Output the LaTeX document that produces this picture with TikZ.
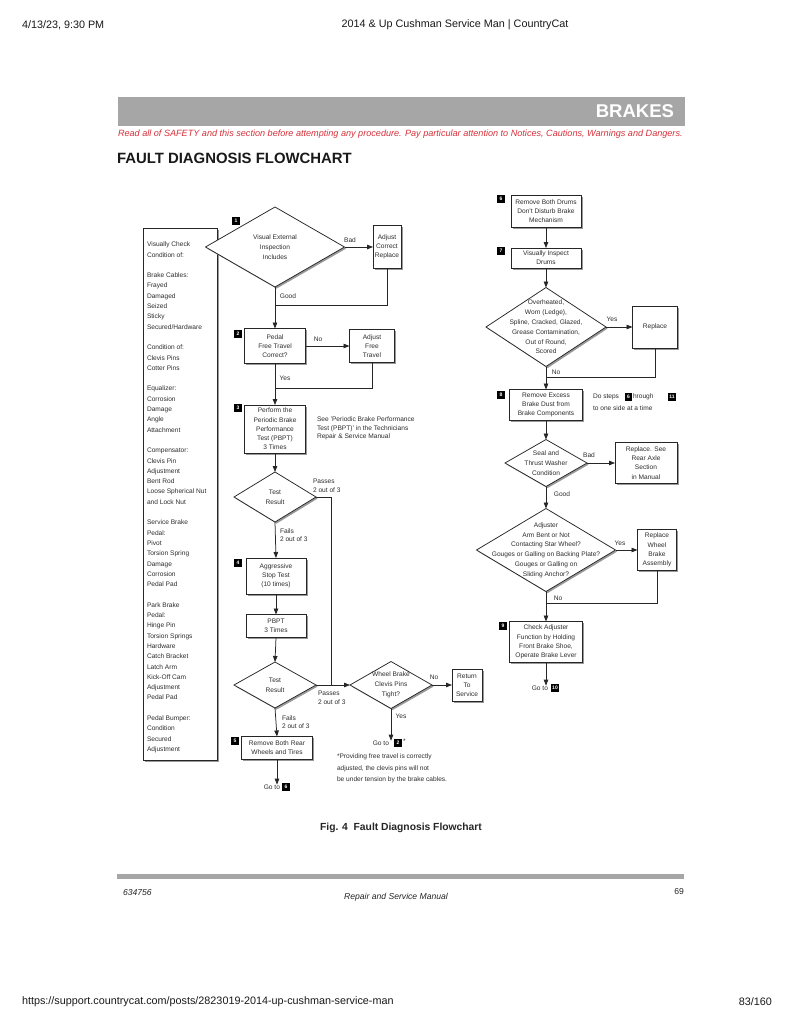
\documentclass[tikz,border=0pt]{standalone}
\usepackage{fontspec}
\setmainfont{Liberation Sans}
\usetikzlibrary{shapes.geometric,arrows.meta,shadows}
\definecolor{warn}{RGB}{214,48,58}
\definecolor{ink}{RGB}{45,45,45}
\definecolor{bar}{RGB}{166,166,166}
\begin{document}
\begin{tikzpicture}[x=1pt,y=-1pt,
 every node/.style={inner sep=0pt, outer sep=0pt},
 fc/.style={font=\fontsize{6.6}{9.2}\selectfont, text=ink, align=center},
 dt/.style={font=\fontsize{6.6}{9.8}\selectfont, text=ink, align=center},
 shd/.style={drop shadow={shadow xshift=1.6pt,shadow yshift=-1.6pt,fill=black!40,opacity=1}},
 bx/.style={draw=black!85, line width=0.75pt, fill=white, shd, rectangle},
 dia/.style={draw=black!85, line width=0.75pt, fill=white, shd, diamond},
 badge/.style={fill=black, text=white, font=\fontsize{5}{5}\selectfont\bfseries, minimum size=7.8pt},
 arr/.style={draw=black!85, line width=0.75pt, -{Triangle[length=6pt,width=4.5pt]}},
 ln/.style={draw=black!85, line width=0.75pt},
 lbl/.style={font=\fontsize{6.6}{8.6}\selectfont, text=ink, align=left},
 hdr/.style={font=\fontsize{10.8}{12}\selectfont, text=black!90},
 ft/.style={font=\fontsize{8.6}{10}\selectfont\itshape, text=black!85}
]
\fill[white] (0,0) rectangle (794,1028);
\useasboundingbox (0,0) rectangle (794,1028);

% page header / footer of the browser print
\node[hdr, anchor=west] (date) at (22,25) {4/13/23, 9:30 PM};
\node[hdr] (ptitle) at (455,25) {2014 \& Up Cushman Service Man | CountryCat};
\node[hdr, anchor=west] (url) at (22,1002) {https://support.countrycat.com/posts/2823019-2014-up-cushman-service-man};
\node[hdr, anchor=east] (pg) at (772,1002) {83/160};

% banner
\node[fill=bar, minimum width=567pt, minimum height=29pt, anchor=north west] (banner) at (118,97) {};
\node[anchor=east, text=white, font=\fontsize{18.5}{20}\selectfont\bfseries] (brakes) at (674,111) {BRAKES};
\node[anchor=west, text=warn, font=\fontsize{9.1}{10}\selectfont\itshape] (warnline) at (118,134) {Read all of SAFETY and this section before attempting any procedure. Pay particular attention to Notices, Cautions, Warnings and Dangers.};
\node[anchor=west, font=\fontsize{14.9}{16}\selectfont\bfseries, text=black!90] (title) at (117,158) {FAULT DIAGNOSIS FLOWCHART};

% left list
\node[bx, minimum width=74pt, minimum height=532pt] (list) at (180,494) {};
\node[anchor=north west, align=left, font=\fontsize{6.6}{10.3}\selectfont, text=ink] (listtxt) at (147,242) {Visually Check\\Condition of:\\[10.3pt]Brake Cables:\\Frayed\\Damaged\\Seized\\Sticky\\Secured/Hardware\\[10.3pt]Condition of:\\Clevis Pins\\Cotter Pins\\[10.3pt]Equalizer:\\Corrosion\\Damage\\Angle\\Attachment\\[10.3pt]Compensator:\\Clevis Pin\\Adjustment\\Bent Rod\\Loose Spherical Nut\\and Lock Nut\\[10.3pt]Service Brake\\Pedal:\\Pivot\\Torsion Spring\\Damage\\Corrosion\\Pedal Pad\\[10.3pt]Park Brake\\Pedal:\\Hinge Pin\\Torsion Springs\\Hardware\\Catch Bracket\\Latch Arm\\Kick-Off Cam\\Adjustment\\Pedal Pad\\[10.3pt]Pedal Bumper:\\Condition\\Secured\\Adjustment};

% step 1
\node[dia, minimum width=139pt, minimum height=80pt] (d1) at (275,247) {};
\node[dt] (d1t) at (d1.center) {Visual External\\Inspection\\Includes};
\node[badge] (n1) at (236,221) {1};
\node[bx, fc, minimum width=28pt, minimum height=43pt] (a1) at (387,247) {Adjust\\Correct\\Replace};
\draw[arr] (d1.east) -- (a1.west);
\node[lbl] (bad1) at (350,240) {Bad};
\coordinate (j1) at (275,305);
\draw[ln] (a1.south) |- (j1);
\node[lbl] (good1) at (288,296) {Good};

% step 2
\node[bx, fc, minimum width=61pt, minimum height=35pt] (b2) at (275,346) {Pedal\\Free Travel\\Correct?};
\node[badge] (n2) at (238,334) {2};
\draw[arr] (d1.south) -- (b2.north);
\node[bx, fc, minimum width=45pt, minimum height=33pt] (a2) at (372,346) {Adjust\\Free\\Travel};
\draw[arr] (b2.east) -- (a2.west);
\node[lbl] (no2) at (318,339) {No};
\coordinate (j2) at (275,388);
\draw[ln] (a2.south) |- (j2);
\node[lbl] (yes2) at (285,378) {Yes};

% step 3
\node[bx, fc, minimum width=61pt, minimum height=48pt] (b3) at (275,429) {Perform the\\Periodic Brake\\Performance\\Test (PBPT)\\3 Times};
\node[badge] (n3) at (238,408) {3};
\draw[arr] (b2.south) -- (b3.north);
\node[lbl, anchor=north west] (note3) at (317,417) {See 'Periodic Brake Performance\\Test (PBPT)' in the Technicians\\Repair \& Service Manual};

% test result 1
\node[dia, minimum width=82pt, minimum height=50pt] (d2) at (275,497) {};
\node[dt] (d2t) at (d2.center) {Test\\Result};
\draw[arr] (b3.south) -- (d2.north);
\coordinate (j3) at (331,685);
\draw[ln] (d2.east) -| (j3);
\node[lbl, anchor=west] (pass1) at (313,486) {Passes\\2 out of 3};
\node[lbl, anchor=west] (fail1) at (280,535) {Fails\\2 out of 3};

% step 4
\node[bx, fc, minimum width=60pt, minimum height=36pt] (b4) at (276,576) {Aggressive\\Stop Test\\(10 times)};
\node[badge] (n4) at (238,563) {4};
\draw[arr] (d2.south) -- (b4.north);
\node[bx, fc, minimum width=60pt, minimum height=23pt] (p5) at (276,626) {PBPT\\3 Times};
\draw[arr] (b4.south) -- (p5.north);

% test result 2
\node[dia, minimum width=82pt, minimum height=46pt] (d3) at (275,685) {};
\node[dt] (d3t) at (d3.center) {Test\\Result};
\draw[arr] (p5.south) -- (d3.north);
\node[lbl, anchor=west] (pass2) at (318,698) {Passes\\2 out of 3};
\node[lbl, anchor=west] (fail2) at (282,722) {Fails\\2 out of 3};

% step 5
\node[bx, fc, minimum width=71pt, minimum height=23pt] (b5) at (277,748) {Remove Both Rear\\Wheels and Tires};
\node[badge] (n5) at (235,741) {5};
\draw[arr] (d3.south) -- (b5.north);
\node[lbl, anchor=east] (go6) at (280,787) {Go to};
\node[badge] (g6) at (286,787) {6};
\draw[arr] (b5.south) -- (b5.south |- go6.north);

% wheel brake clevis
\node[dia, minimum width=82pt, minimum height=47pt] (d4) at (391,685) {};
\node[dt] (d4t) at (d4.center) {Wheel Brake\\Clevis Pins\\Tight?};
\draw[arr] (d3.east) -- (d4.west);
\node[bx, fc, minimum width=30pt, minimum height=32pt] (ret) at (467,685) {Return\\To\\Service};
\draw[arr] (d4.east) -- (ret.west);
\node[lbl] (no4) at (434,677) {No};
\node[lbl] (yes4) at (401,716) {Yes};
\node[lbl, anchor=east] (go2) at (389,743) {Go to};
\node[badge] (g2) at (398,743) {2};
\node[lbl, anchor=west] (star) at (403,741) {*};
\draw[arr] (d4.south) -- (d4.south |- go2.north);
\node[lbl, anchor=north west, font=\fontsize{6.6}{11.5}\selectfont] (fnote) at (337,754) {*Providing free travel is correctly\\adjusted, the clevis pins will not\\be under tension by the brake cables.};

% right column
\node[bx, fc, minimum width=70pt, minimum height=32pt] (b6) at (546,211) {Remove Both Drums\\Don't Disturb Brake\\Mechanism};
\node[badge] (n6) at (501,199) {6};
\node[bx, fc, minimum width=70pt, minimum height=20pt] (b7) at (546,258) {Visually Inspect\\Drums};
\node[badge] (n7) at (501,251) {7};
\draw[arr] (b6.south) -- (b7.north);
\node[dia, minimum width=120pt, minimum height=79pt] (d5) at (546,327) {};
\node[dt] (d5t) at (d5.center) {Overheated,\\Worn (Ledge),\\Spline, Cracked, Glazed,\\Grease Contamination,\\Out of Round,\\Scored};
\draw[arr] (b7.south) -- (d5.north);
\node[bx, fc, minimum width=45pt, minimum height=42pt] (rep1) at (655,327) {Replace};
\draw[arr] (d5.east) -- (rep1.west);
\node[lbl] (yes5) at (612,319) {Yes};
\coordinate (j5) at (546,377);
\draw[ln] (rep1.south) |- (j5);
\node[lbl] (no5) at (556,372) {No};

\node[bx, fc, minimum width=73pt, minimum height=31pt] (b8) at (546,405) {Remove Excess\\Brake Dust from\\Brake Components};
\node[badge] (n8) at (501,395) {8};
\draw[arr] (d5.south) -- (b8.north);
\node[lbl, anchor=west] (steps1) at (593,397) {Do steps};
\node[badge] (s6) at (628.5,397) {6};
\node[lbl, anchor=west] (steps2) at (633,397) {hrough};
\node[badge] (s11) at (672,397) {11};
\node[lbl, anchor=west] (steps3) at (593,408) {to one side at a time};

\node[dia, minimum width=82pt, minimum height=47pt] (d6) at (546,463) {};
\node[dt] (d6t) at (d6.center) {Seal and\\Thrust Washer\\Condition};
\draw[arr] (b8.south) -- (d6.north);
\node[bx, fc, minimum width=62pt, minimum height=41pt] (rep2) at (646,463) {Replace. See\\Rear Axle\\Section\\in Manual};
\draw[arr] (d6.east) -- (rep2.west);
\node[lbl] (bad6) at (589,455) {Bad};
\node[lbl] (good6) at (562,494) {Good};

\node[dia, minimum width=139pt, minimum height=83pt] (d7) at (546,550) {};
\node[dt] (d7t) at (d7.center) {Adjuster\\Arm Bent or Not\\Contacting Star Wheel?\\Gouges or Galling on Backing Plate?\\Gouges or Galling on\\Sliding Anchor?};
\draw[arr] (d6.south) -- (d7.north);
\node[bx, fc, minimum width=39pt, minimum height=41pt] (rep3) at (657,550) {Replace\\Wheel\\Brake\\Assembly};
\draw[arr] (d7.east) -- (rep3.west);
\node[lbl] (yes7) at (620,543) {Yes};
\coordinate (j7) at (546,603);
\draw[ln] (rep3.south) |- (j7);
\node[lbl] (no7) at (558,598) {No};

\node[bx, fc, minimum width=73pt, minimum height=41pt] (b9) at (546,642) {Check Adjuster\\Function by Holding\\Front Brake Shoe,\\Operate Brake Lever};
\node[badge] (n9) at (503,626) {9};
\draw[arr] (d7.south) -- (b9.north);
\node[lbl, anchor=east] (go10) at (548,688) {Go to};
\node[badge] (g10) at (555,688) {10};
\draw[arr] (b9.south) -- (b9.south |- go10.north);

% caption and footer
\node[font=\fontsize{10.3}{12}\selectfont\bfseries, text=black!85] (cap) at (401,828) {Fig. 4\ \ Fault Diagnosis Flowchart};
\fill[bar] (117,874) rectangle (684,878.5);
\node[ft, anchor=west] (code) at (123,893) {634756};
\node[ft] (man) at (396,897) {Repair and Service Manual};
\node[anchor=east, font=\fontsize{8.6}{10}\selectfont, text=black!85] (pno) at (684,892) {69};
\end{tikzpicture}
\end{document}
